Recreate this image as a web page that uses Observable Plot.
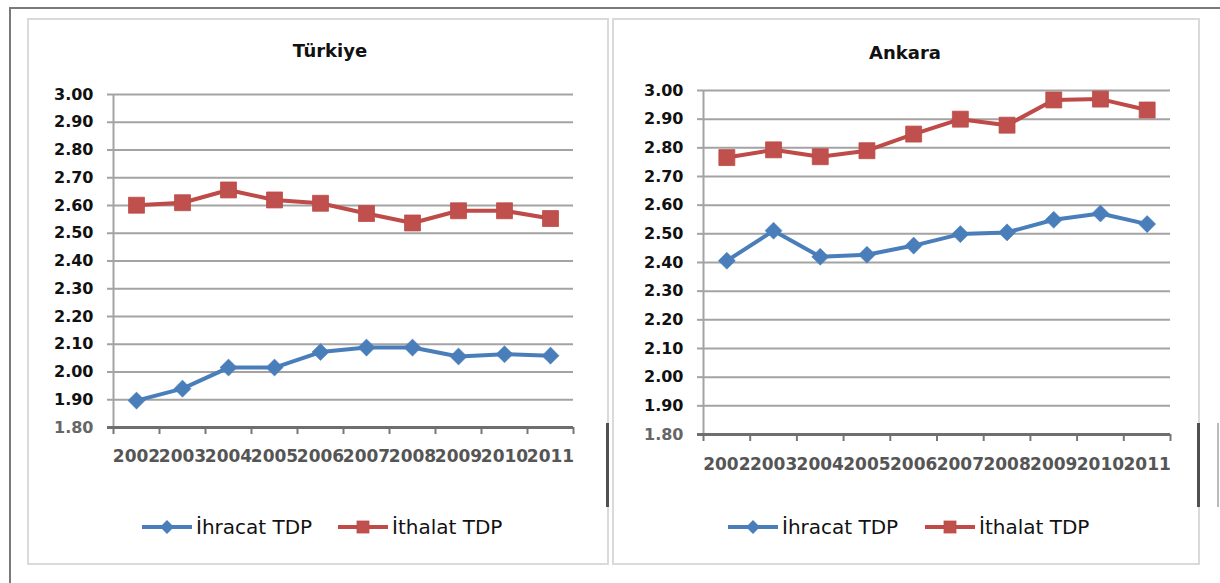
<!DOCTYPE html>
<html><head><meta charset="utf-8">
<script src="https://cdn.jsdelivr.net/npm/d3@7"></script>
<script src="https://cdn.jsdelivr.net/npm/@observablehq/plot@0.6"></script>
<style>
html,body{margin:0;padding:0;background:#fff;}
#page{position:relative;width:1220px;height:583px;overflow:hidden;background:#fff;}
.abs{position:absolute;}
.title{position:absolute;font-family:"DejaVu Sans";font-weight:bold;font-size:18px;color:#111;transform:translate(-50%,-50%);white-space:nowrap;}
.leg{position:absolute;font-family:"DejaVu Sans";font-size:20px;color:#111;display:flex;align-items:center;white-space:nowrap;transform:translateY(-50%);}
.leg svg{display:block;margin-right:4px;}
.plotwrap{position:absolute;top:0;}
</style></head><body><div id="page"></div>
<script>
// ---- data ----
const years = [2002, 2003, 2004, 2005, 2006, 2007, 2008, 2009, 2010, 2011];
const yTicks = [1.8, 1.9, 2.0, 2.1, 2.2, 2.3, 2.4, 2.5, 2.6, 2.7, 2.8, 2.9, 3.0];
const seriesNames = ["İhracat TDP", "İthalat TDP"];
const panelTitles = ["Türkiye", "Ankara"];
const turkiyeIhracat = [1.897, 1.940, 2.016, 2.016, 2.072, 2.088, 2.088, 2.056, 2.064, 2.059];
const turkiyeIthalat = [2.601, 2.610, 2.656, 2.620, 2.608, 2.571, 2.537, 2.581, 2.581, 2.553];
const ankaraIhracat = [2.406, 2.511, 2.420, 2.427, 2.459, 2.499, 2.505, 2.549, 2.571, 2.534];
const ankaraIthalat = [2.766, 2.793, 2.769, 2.790, 2.848, 2.900, 2.879, 2.967, 2.970, 2.932];
const colors = ["#4a7ebb", "#be4b48"];

// ---- page layout ----
const page = document.getElementById("page");
function box(l, t, w, h, css) {
  const d = document.createElement("div");
  d.className = "abs";
  d.style.cssText = `left:${l}px;top:${t}px;width:${w}px;height:${h}px;${css}`;
  page.appendChild(d);
}
box(10, 7, 1210, 2, "background:#7a7a7a;");
box(9, 7, 2, 576, "background:#7a7a7a;");
box(27, 18, 582, 547, "box-sizing:border-box;border:2px solid #dadada;");
box(612, 18, 588, 547, "box-sizing:border-box;border:2px solid #dadada;");
box(606, 423, 3, 84, "background:#505050;");
box(1197, 423, 3, 84, "background:#505050;");
box(1217, 423, 2, 84, "background:#bbbbbb;");

const panels = [
  {title: panelTitles[0], ihr: turkiyeIhracat, ith: turkiyeIthalat, left: 0,
   mL: 113, mR: 37, mT: 94, mB: 156, pad: 22, tx: 330, ty: 50,
   leg: [[142, 527], [338, 527]]},
  {title: panelTitles[1], ihr: ankaraIhracat, ith: ankaraIthalat, left: 610,
   mL: 93, mR: 50, mT: 90, mB: 149, pad: 23, tx: 905, ty: 52,
   leg: [[728, 527], [925, 527]]}
];

const xDomain = [years[0] - 0.5, years[years.length - 1] + 0.5];
const boundaries = years.map(y => y - 0.5).concat([years[years.length - 1] + 0.5]);
const fmt = d => d.toFixed(2);
const gridColor = "#a3a3a3";
const baseColor = "#6e6e6e";

panels.forEach(p => {
  const rows = [];
  years.forEach((y, i) => {
    rows.push({year: y, value: p.ihr[i], series: seriesNames[0]});
    rows.push({year: y, value: p.ith[i], series: seriesNames[1]});
  });
  const chart = Plot.plot({
    width: 610, height: 583,
    marginLeft: p.mL, marginRight: p.mR, marginTop: p.mT, marginBottom: p.mB,
    style: {background: "transparent", overflow: "visible"},
    x: {type: "linear", domain: xDomain, label: null, axis: null},
    y: {domain: [yTicks[0], yTicks[yTicks.length - 1]], label: null, axis: null},
    color: {domain: seriesNames, range: colors},
    marks: [
      Plot.ruleY(yTicks.slice(1), {stroke: gridColor, strokeWidth: 2}),
      Plot.axisY(yTicks.slice(1), {tickSize: 6, tickPadding: 14, tickFormat: fmt, label: null,
        stroke: gridColor, strokeWidth: 2, fill: "#111", fontSize: 16, fontWeight: "bold", fontFamily: "DejaVu Sans"}),
      Plot.ruleX([xDomain[0]], {stroke: gridColor, strokeWidth: 2}),
      Plot.axisX(boundaries, {tickSize: 7, tickFormat: () => "", label: null, stroke: "#777", strokeWidth: 2}),
      Plot.ruleY([yTicks[0]], {stroke: baseColor, strokeWidth: 3}),
      Plot.axisY([yTicks[0]], {tickSize: 6, tickPadding: 14, tickFormat: fmt, label: null,
        stroke: baseColor, strokeWidth: 3, fill: "#666", fontSize: 16, fontWeight: "bold", fontFamily: "DejaVu Sans"}),
      Plot.axisX(years, {tickSize: 0, tickPadding: p.pad, tickFormat: d => String(d), label: null,
        fill: "#555", fontSize: 17, fontWeight: "bold", fontFamily: "DejaVu Sans"}),
      Plot.line(rows, {x: "year", y: "value", z: "series", stroke: "series", strokeWidth: 4}),
      Plot.dot(rows.filter(r => r.series === seriesNames[0]), {x: "year", y: "value", symbol: "diamond2", r: 7.7,
        fill: colors[0], stroke: colors[0], strokeWidth: 0.5}),
      Plot.dot(rows.filter(r => r.series === seriesNames[1]), {x: "year", y: "value", symbol: "square", r: 9,
        fill: "#c0504d", stroke: colors[1], strokeWidth: 0.8})
    ]
  });
  const wrap = document.createElement("div");
  wrap.className = "plotwrap";
  wrap.style.left = p.left + "px";
  wrap.appendChild(chart);
  page.appendChild(wrap);

  const t = document.createElement("div");
  t.className = "title";
  t.style.left = p.tx + "px";
  t.style.top = p.ty + "px";
  t.textContent = p.title;
  page.appendChild(t);

  p.leg.forEach(([lx, ly], i) => {
    const d = document.createElement("div");
    d.className = "leg";
    d.style.left = lx + "px";
    d.style.top = ly + "px";
    const marker = i === 0
      ? `<path d="M25,3 L32,10 L25,17 L18,10 Z" fill="${colors[0]}"/>`
      : `<rect x="19" y="4" width="12" height="12" fill="#c0504d" stroke="${colors[1]}" stroke-width="0.8"/>`;
    d.innerHTML = `<svg width="50" height="20"><line x1="0" y1="10" x2="50" y2="10" stroke="${colors[i]}" stroke-width="4"/>${marker}</svg><span>${seriesNames[i]}</span>`;
    page.appendChild(d);
  });
});
</script></body></html>
